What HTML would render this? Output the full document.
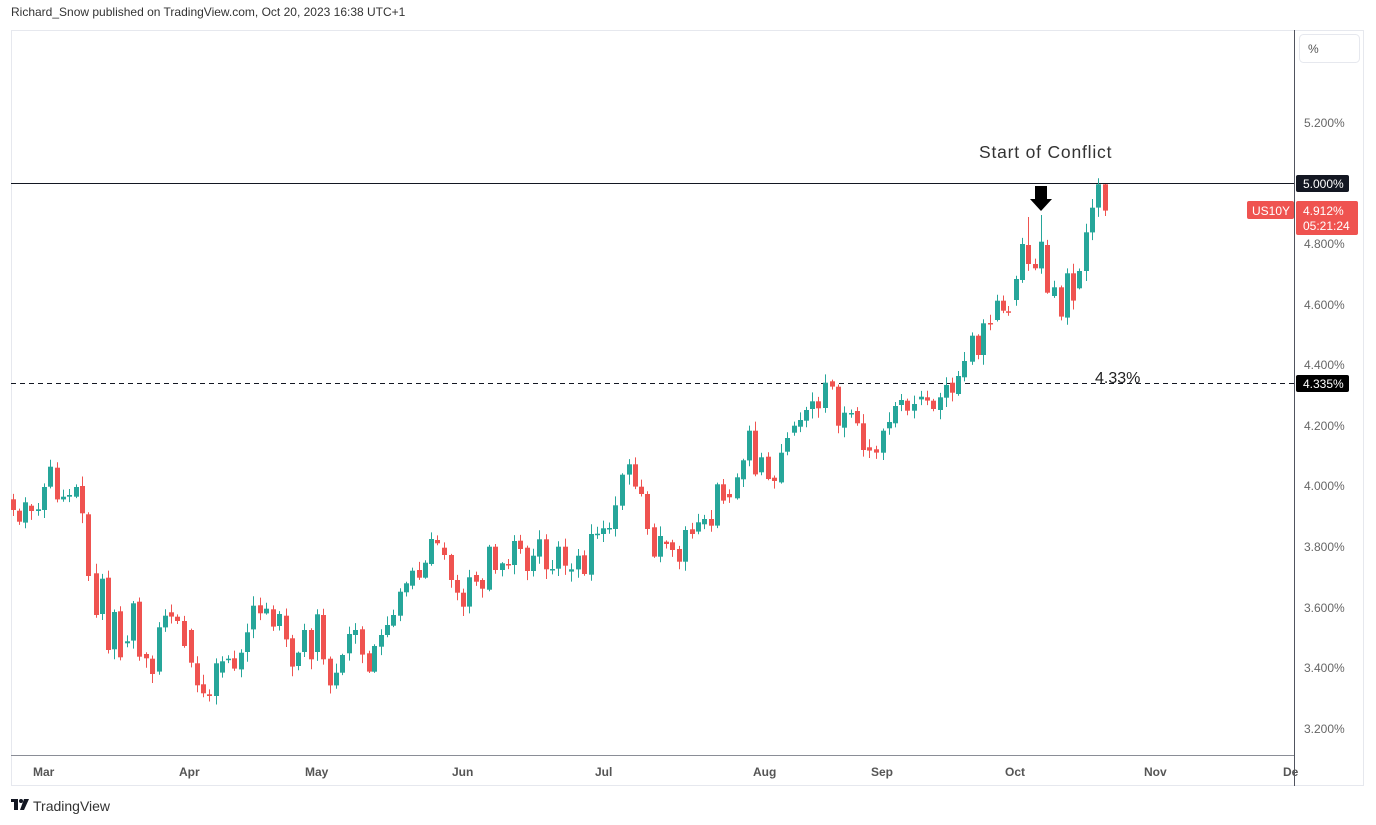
<!DOCTYPE html>
<html><head><meta charset="utf-8">
<style>
html,body{margin:0;padding:0;background:#fff;}
body{width:1376px;height:825px;overflow:hidden;position:relative;font-family:"Liberation Sans",sans-serif;}
svg{position:absolute;left:0;top:0;}
</style></head>
<body>
<svg id="s" width="1376" height="825" viewBox="0 0 1376 825" xmlns="http://www.w3.org/2000/svg" font-family="Liberation Sans, sans-serif">
<text x="11" y="16" font-size="12" fill="#333">Richard_Snow published on TradingView.com, Oct 20, 2023 16:38 UTC+1</text>
<rect x="11.5" y="30.5" width="1352" height="755" fill="#fff" stroke="#e6e8ee"/>
<line x1="1294.5" y1="30" x2="1294.5" y2="786" stroke="#50535e"/>
<line x1="11" y1="755.5" x2="1294" y2="755.5" stroke="#8a8d96"/>
<rect x="1299.5" y="34.5" width="60" height="28" rx="4" fill="#fff" stroke="#e6e8ee"/>
<text x="1308" y="53" font-size="12" fill="#555">%</text>
<g font-size="12" fill="#666">
<text x="1304" y="127">5.200%</text>
<text x="1304" y="248">4.800%</text>
<text x="1304" y="309">4.600%</text>
<text x="1304" y="369">4.400%</text>
<text x="1304" y="430">4.200%</text>
<text x="1304" y="490">4.000%</text>
<text x="1304" y="551">3.800%</text>
<text x="1304" y="612">3.600%</text>
<text x="1304" y="672">3.400%</text>
<text x="1304" y="733">3.200%</text>
</g>
<g font-size="12" fill="#555" font-weight="bold">
<text x="33" y="776">Mar</text>
<text x="179" y="776">Apr</text>
<text x="305" y="776">May</text>
<text x="452" y="776">Jun</text>
<text x="595" y="776">Jul</text>
<text x="753" y="776">Aug</text>
<text x="871" y="776">Sep</text>
<text x="1005" y="776">Oct</text>
<text x="1144" y="776">Nov</text>
<text x="1283" y="776">De</text>
</g>
<line x1="11" y1="183.5" x2="1294" y2="183.5" stroke="#131722" stroke-width="1"/>
<line x1="11" y1="383.5" x2="1294" y2="383.5" stroke="#131722" stroke-width="1" stroke-dasharray="5,4"/>
<g id="c"></g>
<rect x="1035" y="186" width="12" height="14" fill="#000"/>
<polygon points="1030,199 1052,199 1041,211" fill="#000"/>
<text x="979" y="158" font-size="17.5" fill="#333" letter-spacing="0.8">Start of Conflict</text>
<text x="1095" y="383" font-size="16" fill="#222">4.33%</text>
<rect x="1296" y="175" width="53" height="17" rx="2" fill="#131722"/>
<text x="1303" y="188" font-size="12" fill="#fff">5.000%</text>
<rect x="1296" y="375" width="53" height="17" rx="2" fill="#000"/>
<text x="1303" y="388" font-size="12" fill="#fff">4.335%</text>
<rect x="1247" y="201" width="47" height="18" rx="2" fill="#ef5350"/>
<text x="1252" y="215" font-size="12" fill="#fff">US10Y</text>
<rect x="1296" y="201" width="62" height="34" rx="2" fill="#ef5350"/>
<text x="1303" y="215" font-size="12" fill="#fff">4.912%</text>
<text x="1303" y="230" font-size="12" fill="#fff">05:21:24</text>
<g transform="translate(11,799)">
<rect x="0" y="0" width="7" height="3" fill="#131722"/><rect x="3" y="0" width="4" height="11" fill="#131722"/>
<circle cx="10" cy="2" r="2" fill="#131722"/><polygon points="13,0 18,0 13,11 9,11" fill="#131722"/>
</g>
<text x="33" y="811" font-size="14" fill="#333">TradingView</text>
</svg>
<script>
var G='#26a69a',R='#ef5350';
var d=[];
function add(ox,oy,arr){for(var i=0;i<arr.length;i++){var a=arr[i];d.push([ox+a[0]/3,oy+a[1]/3,oy+a[2]/3,a[3]]);}}
add(0,450,[[40,148,180,'r'],[57,182,215,'r'],[75,218,157,'g'],[93,167,183,'r'],[115,183,178,'g'],[133,180,111,'g'],[151,110,50,'g'],[170,53,148,'r'],[188,148,140,'g'],[208,140,135,'g'],[228,140,111,'g'],[246,108,190,'r'],[265,193,378,'r'],[287,370,495,'r'],[305,492,386,'g'],[323,383,600,'r'],[342,598,486,'g'],[360,484,622,'r'],[380,580,574,'g'],[398,572,460,'g'],[418,455,620,'r'],[437,612,625,'r'],[457,626,672,'r'],[476,665,532,'g'],[495,532,497,'g'],[513,487,500,'r'],[531,500,513,'r'],[552,513,588,'r'],[572,540,638,'r'],[590,640,706,'r'],[608,703,730,'r'],[626,733,738,'r'],[647,738,640,'g'],[666,668,634,'g'],[685,630,626,'g'],[703,625,656,'r'],[723,658,608,'g'],[742,606,547,'g'],[760,538,467,'g'],[779,466,490,'r'],[797,490,476,'g'],[818,478,530,'r'],[838,528,492,'g'],[857,497,568,'r'],[875,565,650,'r'],[895,648,608,'g'],[913,606,540,'g'],[932,540,628,'r'],[950,606,493,'g'],[968,495,628,'r'],[990,626,706,'r'],[1008,706,668,'g']]);
add(320,440,[[67,698,645,'g'],[86,640,582,'g'],[106,585,570,'g'],[126,568,644,'r'],[146,640,695,'r'],[162,695,618,'g'],[182,620,585,'g'],[201,585,555,'g'],[220,557,525,'g'],[239,527,455,'g'],[258,457,430,'g'],[276,437,392,'g'],[296,390,413,'r'],[316,413,368,'g'],[334,372,297,'g'],[352,300,310,'r'],[372,323,345,'r'],[392,345,420,'r'],[410,420,458,'r'],[430,458,500,'r'],[448,500,412,'g'],[468,405,425,'r'],[486,420,446,'r'],[506,449,320,'g'],[524,320,390,'r'],[545,390,370,'g'],[564,372,374,'r'],[582,375,303,'g'],[601,302,327,'r'],[620,323,393,'r'],[640,393,347,'g'],[658,350,298,'g'],[678,298,388,'r'],[696,389,387,'g'],[714,386,320,'g'],[736,320,377,'r'],[754,395,388,'g'],[773,388,347,'g'],[791,346,402,'r'],[812,404,282,'g'],[831,283,281,'g'],[849,282,265,'g'],[867,266,264,'g'],[885,267,196,'g'],[906,197,104,'g'],[926,104,73,'g'],[944,73,140,'r'],[962,140,162,'r']]);
add(640,360,[[22,402,507,'r'],[42,502,590,'r'],[60,590,528,'g'],[78,545,552,'r'],[97,547,570,'r'],[118,567,605,'r'],[136,605,510,'g'],[155,508,522,'r'],[173,515,487,'g'],[192,493,477,'g'],[213,477,497,'r'],[232,497,373,'g'],[250,373,422,'r'],[268,402,412,'r'],[290,415,352,'g'],[308,358,301,'g'],[328,301,212,'g'],[345,212,343,'r'],[363,337,292,'g'],[384,290,357,'r'],[403,353,363,'r'],[422,367,278,'g'],[440,275,234,'g'],[462,218,197,'g'],[480,200,180,'g'],[498,182,150,'g'],[517,147,124,'g'],[535,124,145,'r'],[556,144,68,'g'],[575,64,80,'r'],[594,80,197,'r'],[612,203,158,'g'],[632,161,159,'g'],[652,153,190,'r'],[670,190,270,'r'],[688,262,272,'r'],[707,268,278,'r'],[728,278,212,'g'],[746,205,186,'g'],[765,190,138,'g'],[783,135,120,'g'],[802,122,152,'r'],[822,152,132,'g'],[842,118,110,'g'],[860,112,122,'r'],[878,122,147,'r'],[900,150,112,'g'],[918,113,75,'g'],[936,68,98,'r'],[955,102,48,'g'],[973,52,3,'g']]);
add(940,170,[[97,575,497,'g'],[113,497,555,'r'],[130,555,460,'g'],[150,459,461,'r'],[170,450,392,'g'],[188,392,422,'r'],[205,424,426,'r'],[227,390,327,'g'],[245,330,222,'g'],[265,225,282,'r'],[285,282,295,'r'],[303,295,215,'g'],[322,225,368,'r'],[342,378,352,'g'],[362,352,440,'r'],[380,443,310,'g'],[398,310,392,'r'],[417,355,303,'g'],[437,303,187,'g'],[455,187,113,'g'],[475,113,43,'g'],[495,43,122,'r']]);
var seed=7;function rnd(){seed=(seed*9301+49297)%233280;return seed/233280;}
var h='';
var spec={1028:[217,null],1041:[215,null],1105:[184,216]};
for(var i=0;i<d.length;i++){var c=d[i],x=Math.round(c[0])+0.5,t=Math.min(c[1],c[2]),b=Math.max(c[1],c[2]);
var col=c[3]=='g'?G:R;var hi=t-1-rnd()*9,lo=b+1+rnd()*9;
for(var k in spec){if(Math.abs(c[0]-k)<2){if(spec[k][0])hi=spec[k][0];if(spec[k][1])lo=spec[k][1];}}
h+='<line x1="'+x+'" x2="'+x+'" y1="'+hi.toFixed(1)+'" y2="'+lo.toFixed(1)+'" stroke="'+col+'" stroke-width="1"/>';
var bh=Math.max(b-t,1.5);
h+='<rect x="'+(x-2.5)+'" y="'+t.toFixed(1)+'" width="5" height="'+bh.toFixed(1)+'" fill="'+col+'"/>';}
document.getElementById('c').innerHTML=h;
</script>
</body></html>
